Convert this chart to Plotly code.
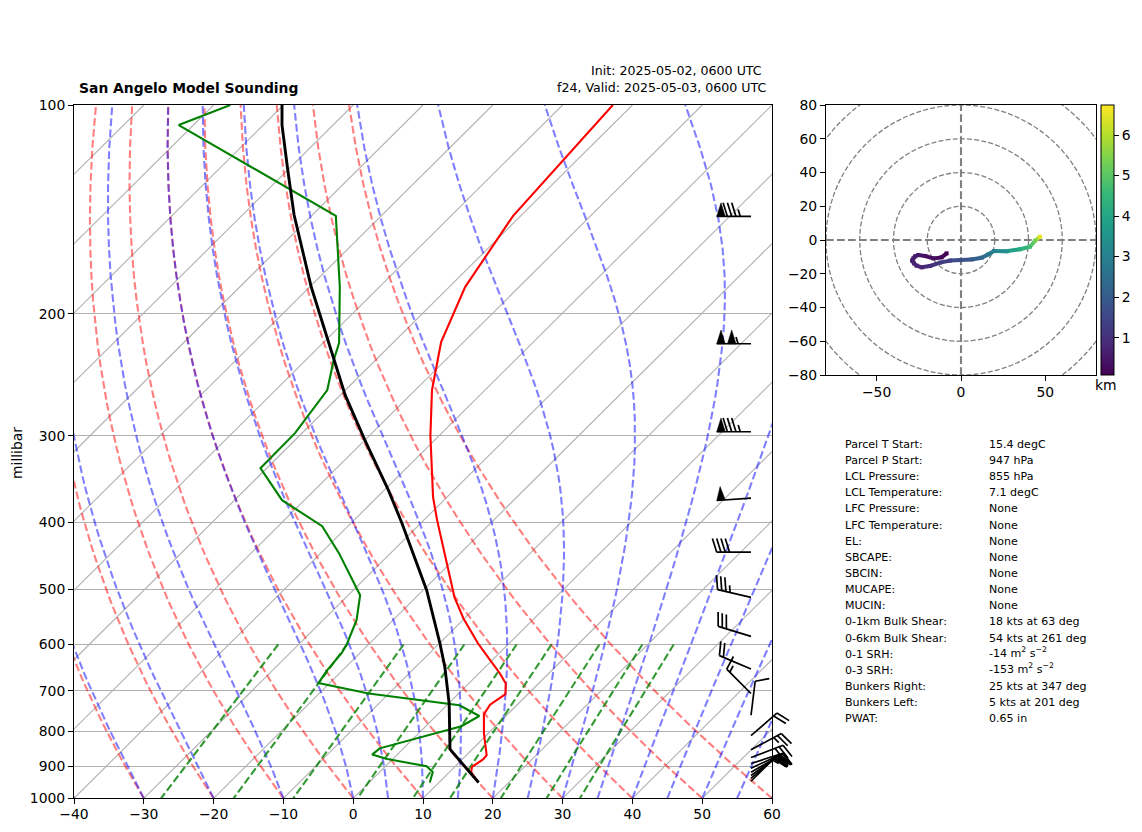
import numpy as np
import plotly.graph_objects as go

# ---------- sounding data ----------
temp_p = [100, 144.6, 183.1, 219.8, 257.7, 299.5, 367.8, 397, 458, 512.8, 549.8, 597.5, 632.2, 659.5,
          683, 707.7, 732.7, 756.4, 806.6, 866.6, 878.2, 901.1, 916.3, 948.2]
temp_c = [-62.8, -61.1, -57.7, -53.2, -47.6, -41.3, -32, -28.1, -20.5, -14.5, -10.2, -4.5, -0.3, 2.9,
          5.3, 6.8, 6.1, 6.6, 9.4, 12.9, 13, 12.5, 13.1, 15.6]
dewp_p = [100, 106.9, 144.5, 182.9, 220.4, 233.3, 257.7, 297.4, 334.1, 371.5, 405, 443, 509.4, 553.6,
          598, 617.2, 653.8, 682, 706.1, 734.1, 760.9, 787.1, 847.1, 864.8, 877.4, 899.2, 916.3, 949]
dewp_c = [-117.6, -122.1, -86.5, -75.7, -67.7, -66, -62.6, -61, -60.9, -53.2, -43.7, -37.4, -28.3, -25.2,
          -23.2, -22.6, -22.2, -21.6, -12.9, 1.8, 6.2, 5.1, -3.4, -3.6, -0.8, 5.9, 7.6, 8.7]
parcel_p = [100, 106.9, 124.1, 144.1, 182.9, 233.3, 262.1, 304.3, 359.4, 401, 443.5, 500.9, 598, 646.7,
            730.3, 806, 849.8, 949]
parcel_c = [-110.2, -107.3, -100, -92.6, -79.8, -66, -59.3, -50, -39.4, -32.7, -26.7, -19.5, -9.9, -5.8,
            0.1, 4.5, 6.8, 15.7]

barb_p = [144.8, 221, 296, 369, 441.6, 513, 584, 651, 706, 759, 812, 851, 873.5, 891, 905, 917, 927, 936, 945]
barb_kt = [85, 105, 85, 50, 40, 35, 30, 20, 15, 10, 20, 25, 25, 25, 25, 20, 20, 20, 15]
barb_dir = [270, 270, 270, 266, 270, 283, 287, 293, 315, 7, 49, 62, 69, 72, 65, 60, 55, 50, 45]

hodo_u = [-8.5, -11.5, -16.4, -21.3, -25.3, -27.3, -28.2, -29, -27.9, -26.3, -23.3, -18.4, -12.4, -6.5, 0, 6.3,
          12.2, 16.2, 19.6, 27, 35, 40.9, 43.9, 46.8]
hodo_v = [-7.9, -10.3, -10.9, -9.5, -8.9, -9.7, -10.9, -12.2, -13.8, -15.2, -16.2, -15.4, -13.4, -12.2, -11.9,
          -11.5, -10.5, -8.5, -6.5, -6.7, -5.5, -4, -0.4, 2]
hodo_km = [0.1, 0.2, 0.3, 0.4, 0.5, 0.55, 0.6, 0.65, 0.7, 0.75, 0.8, 1.0, 1.2, 1.4, 1.7, 2.0, 2.3, 2.7, 3.0, 3.5,
           4.2, 4.7, 5.3, 6.5]

labels = ["Parcel T Start:", "Parcel P Start:", "LCL Pressure:", "LCL Temperature:", "LFC Pressure:",
          "LFC Temperature:", "EL:", "SBCAPE:", "SBCIN:", "MUCAPE:", "MUCIN:", "0-1km Bulk Shear:",
          "0-6km Bulk Shear:", "0-1 SRH:", "0-3 SRH:", "Bunkers Right:", "Bunkers Left:", "PWAT:"]
values = ["15.4 degC", "947 hPa", "855 hPa", "7.1 degC", "None", "None", "None", "None", "None", "None", "None",
          "18 kts at 63 deg", "54 kts at 261 deg", "-14 m<sup>2</sup> s<sup>\u22122</sup>",
          "-153 m<sup>2</sup> s<sup>\u22122</sup>", "25 kts at 347 deg", "5 kts at 201 deg", "0.65 in"]

isotherms = list(range(-130, 61, 10))
dry_t0 = list(range(-40, 61, 10))
moist_t0 = [-40, -30, -20, -10] + list(range(0, 61, 5))
mix_gkg = [0.4, 1, 2, 4, 7, 10, 16, 24, 32]
press_ticks = [100, 200, 300, 400, 500, 600, 700, 800, 900, 1000]

# ---------- layout constants ----------
W, H = 1142, 832
FONT = "DejaVu Sans"
L_PX, R_PX, T_PX, B_PX = 74, 772, 105, 798.3
SKEW = 100.0


def skew_x(t, p):
    return np.asarray(t, float) + SKEW * np.log10(1000.0 / np.asarray(p, float))


def moist_profile(t0, pres):
    eps, rd, cp, lv = 0.622, 287.05, 1004.0, 2.50084e6

    def f(p, t):
        tc = t - 273.15
        es = 6.112 * np.exp(17.67 * tc / (tc + 243.5))
        rs = eps * es / (p - es)
        return (rd * t + lv * rs) / (cp + lv * lv * rs * eps / (rd * t * t)) / p

    out = [t0 + 273.15]
    for a, b in zip(pres[:-1], pres[1:]):
        t = out[-1]
        n = 4
        h = (b - a) / n
        pp = a
        for _ in range(n):
            k1 = f(pp, t)
            k2 = f(pp + h / 2, t + h * k1 / 2)
            k3 = f(pp + h / 2, t + h * k2 / 2)
            k4 = f(pp + h, t + h * k3)
            t = t + h * (k1 + 2 * k2 + 2 * k3 + k4) / 6
            pp += h
        out.append(t)
    return np.array(out) - 273.15


fig = go.Figure()


def add_skew(x, p, color, width, dash=None):
    fig.add_trace(go.Scatter(x=x, y=p, mode="lines", xaxis="x", yaxis="y", showlegend=False, hoverinfo="skip",
                             line=dict(color=color, width=width, dash=dash)))


edge_p = np.array([1000.0, 100.0])
for t in isotherms:
    add_skew(skew_x(t, edge_p), edge_p, "#b0b0b0", 1.1)

pres = np.linspace(1000, 100, 60)
for t0 in dry_t0:
    t = (t0 + 273.15) * (pres / 1000.0) ** 0.2857 - 273.15
    add_skew(skew_x(t, pres), pres, "rgba(255,0,0,0.5)", 2.1, "7.7px,3.3px")
for t0 in moist_t0:
    add_skew(skew_x(moist_profile(t0, pres), pres), pres, "rgba(0,0,255,0.5)", 2.1, "7.7px,3.3px")
mix_p = np.linspace(600, 1000, 30)
for w in mix_gkg:
    ww = w * 1e-3
    e = mix_p * ww / (0.622 + ww)
    lg = np.log(e / 6.112)
    td = 243.5 * lg / (17.67 - lg)
    add_skew(skew_x(td, mix_p), mix_p, "rgba(0,128,0,0.8)", 2.1, "7.7px,3.3px")

add_skew(skew_x(temp_c, temp_p), temp_p, "#ff0000", 2.1)
add_skew(skew_x(dewp_c, dewp_p), dewp_p, "#008000", 2.1)
add_skew(skew_x(parcel_c, parcel_p), parcel_p, "#000000", 2.9)

# ---------- hodograph ----------
km_lo, km_hi = 0.08, 6.74
VIRIDIS = ["#440154", "#482878", "#3e4989", "#31688e", "#26828e", "#1f9e89", "#35b779", "#6ece58", "#b5de2b", "#fde725"]


def viridis(v):
    f = (v - km_lo) / (km_hi - km_lo) * (len(VIRIDIS) - 1)
    i = min(int(f), len(VIRIDIS) - 2)
    f -= i
    a = [int(VIRIDIS[i][j:j + 2], 16) for j in (1, 3, 5)]
    b = [int(VIRIDIS[i + 1][j:j + 2], 16) for j in (1, 3, 5)]
    return "rgb(%d,%d,%d)" % tuple(round(a[k] + (b[k] - a[k]) * f) for k in range(3))


for a in range(len(hodo_u) - 1):
    fig.add_trace(go.Scatter(x=hodo_u[a:a + 2], y=hodo_v[a:a + 2], mode="lines", xaxis="x2", yaxis="y2",
                             showlegend=False, hoverinfo="skip",
                             line=dict(color=viridis((hodo_km[a] + hodo_km[a + 1]) / 2), width=4)))
fig.add_trace(go.Scatter(
    x=hodo_u, y=hodo_v, mode="markers", xaxis="x2", yaxis="y2", showlegend=False, hoverinfo="skip",
    marker=dict(size=4, color=hodo_km, cmin=km_lo, cmax=km_hi, colorscale="Viridis", symbol="square",
                colorbar=dict(x=1100.7 / W, xanchor="left", y=1 - 375 / H, yanchor="bottom", len=270 / H,
                              lenmode="fraction", thickness=13.3, thicknessmode="pixels", xpad=0, ypad=0,
                              tickvals=[1, 2, 3, 4, 5, 6], ticks="outside", ticklen=5, tickwidth=1,
                              tickcolor="black", outlinewidth=1, outlinecolor="black",
                              tickfont=dict(family=FONT, size=13.9, color="black")))))

# ---------- wind barbs (drawn on a full-figure overlay axis) ----------
BASE_X, STAFF = 751.0, 34.3
bar_h, bar_w, space = 0.4 * STAFF, 0.25 * STAFF, 0.125 * STAFF
line_x, line_y, flag_x, flag_y = [], [], [], []
for p, kt, d in zip(barb_p, barb_kt, barb_dir):
    by = B_PX - (B_PX - T_PX) * np.log10(1000.0 / p)
    ux, uy = np.sin(np.radians(d)), -np.cos(np.radians(d))
    px, py = -uy, ux
    tx, ty = BASE_X + STAFF * ux, by + STAFF * uy
    line_x += [BASE_X, tx, None]
    line_y += [by, ty, None]
    n50, rest = kt // 50, kt % 50
    n10, rest = rest // 10, rest % 10
    half = rest >= 5
    off = 0.0
    for _ in range(n50):
        a = (tx - ux * off, ty - uy * off)
        b = (tx - ux * (off + bar_w / 2) + px * bar_h, ty - uy * (off + bar_w / 2) + py * bar_h)
        c = (tx - ux * (off + bar_w), ty - uy * (off + bar_w))
        flag_x += [a[0], b[0], c[0], a[0], None]
        flag_y += [a[1], b[1], c[1], a[1], None]
        off += bar_w + 0.5 * space
    for _ in range(n10):
        line_x += [tx - ux * off, tx - ux * (off - bar_w / 2) + px * bar_h, None]
        line_y += [ty - uy * off, ty - uy * (off - bar_w / 2) + py * bar_h, None]
        off += space
    if half:
        if off == 0:
            off = 1.5 * space
        line_x += [tx - ux * off, tx - ux * (off - bar_w / 4) + px * bar_h / 2, None]
        line_y += [ty - uy * off, ty - uy * (off - bar_w / 4) + py * bar_h / 2, None]

fig.add_trace(go.Scatter(x=line_x, y=line_y, mode="lines", xaxis="x3", yaxis="y3", showlegend=False,
                         hoverinfo="skip", line=dict(color="black", width=1.7)))
fig.add_trace(go.Scatter(x=flag_x, y=flag_y, mode="lines", xaxis="x3", yaxis="y3", showlegend=False,
                         hoverinfo="skip", fill="toself", fillcolor="black", line=dict(color="black", width=0.5)))

# ---------- annotations ----------
anns = []


def note(x, y, text, size, anchor="left", bold=False, angle=0):
    anns.append(dict(x=x / W, y=1 - y / H, xref="paper", yref="paper", text="<b>%s</b>" % text if bold else text,
                     showarrow=False, xanchor=anchor, yanchor="middle", textangle=angle, borderpad=0,
                     font=dict(family=FONT, size=size, color="black")))


note(78, 88, "San Angelo Model Sounding", 13.9, bold=True)
note(763, 70.5, "Init: 2025-05-02, 0600 UTC", 12.6, anchor="right")
note(767, 88, "f24, Valid: 2025-05-03, 0600 UTC", 12.6, anchor="right")
note(17, 453, "millibar", 13.9, anchor="center", angle=-90)
note(1106, 385, "km", 13.9, anchor="center")
for i, (a, b) in enumerate(zip(labels, values)):
    yy = 444.3 + i * 16.15
    note(844, yy, a, 11.05)
    note(988, yy - (1.5 if "sup" in b else 0), b, 11.05)

# ---------- hodograph rings ----------
rings = [20, 40, 60, 80, 100]
shapes = [dict(type="circle", xref="x2", yref="y2", x0=-r, x1=r, y0=-r, y1=r, layer="below",
               line=dict(color="#808080", width=1.3, dash="5px,2.2px")) for r in rings]
shapes += [dict(type="line", xref="x2", yref="y2", x0=-80, x1=80, y0=0, y1=0, layer="below",
                line=dict(color="#808080", width=2.1, dash="7.7px,3.3px")),
           dict(type="line", xref="x2", yref="y2", x0=0, x1=0, y0=-80, y1=80, layer="below",
                line=dict(color="#808080", width=2.1, dash="7.7px,3.3px"))]

tickfont = dict(family=FONT, size=13.9, color="black")
axis_common = dict(showline=True, linecolor="black", linewidth=1, mirror=True, ticks="outside", ticklen=5,
                   tickwidth=1, tickcolor="black", tickfont=tickfont, zeroline=False)

fig.update_layout(
    width=W, height=H, margin=dict(l=0, r=0, t=0, b=0, pad=0, autoexpand=False), autosize=False,
    paper_bgcolor="white", plot_bgcolor="rgba(0,0,0,0)", showlegend=False, font=dict(family=FONT),
    annotations=anns, shapes=shapes,
    xaxis=dict(domain=[L_PX / W, R_PX / W], range=[-40, 60], tickvals=list(range(-40, 61, 10)), showgrid=False,
               anchor="y", ticklabelstandoff=-2, **axis_common),
    yaxis=dict(domain=[1 - B_PX / H, 1 - T_PX / H], type="log", range=[3, 2], tickvals=press_ticks,
               ticktext=[str(v) for v in press_ticks], showgrid=True, gridcolor="#b0b0b0", gridwidth=1.1,
               anchor="x", **axis_common),
    xaxis2=dict(domain=[826 / W, 1096 / W], range=[-80, 80], tickvals=[-50, 0, 50], showgrid=False, anchor="y2",
                ticklabelstandoff=-1, **axis_common),
    yaxis2=dict(domain=[1 - 375 / H, 1 - 105 / H], range=[-80, 80], tickvals=list(range(-80, 81, 20)),
                showgrid=False, anchor="x2", **axis_common),
    xaxis3=dict(domain=[0, 1], range=[0, W], visible=False, anchor="y3"),
    yaxis3=dict(domain=[0, 1], range=[H, 0], visible=False, anchor="x3"),
)

fig.write_html("out.html", config={"displayModeBar": False},
               post_script="document.body.style.margin='0';")
